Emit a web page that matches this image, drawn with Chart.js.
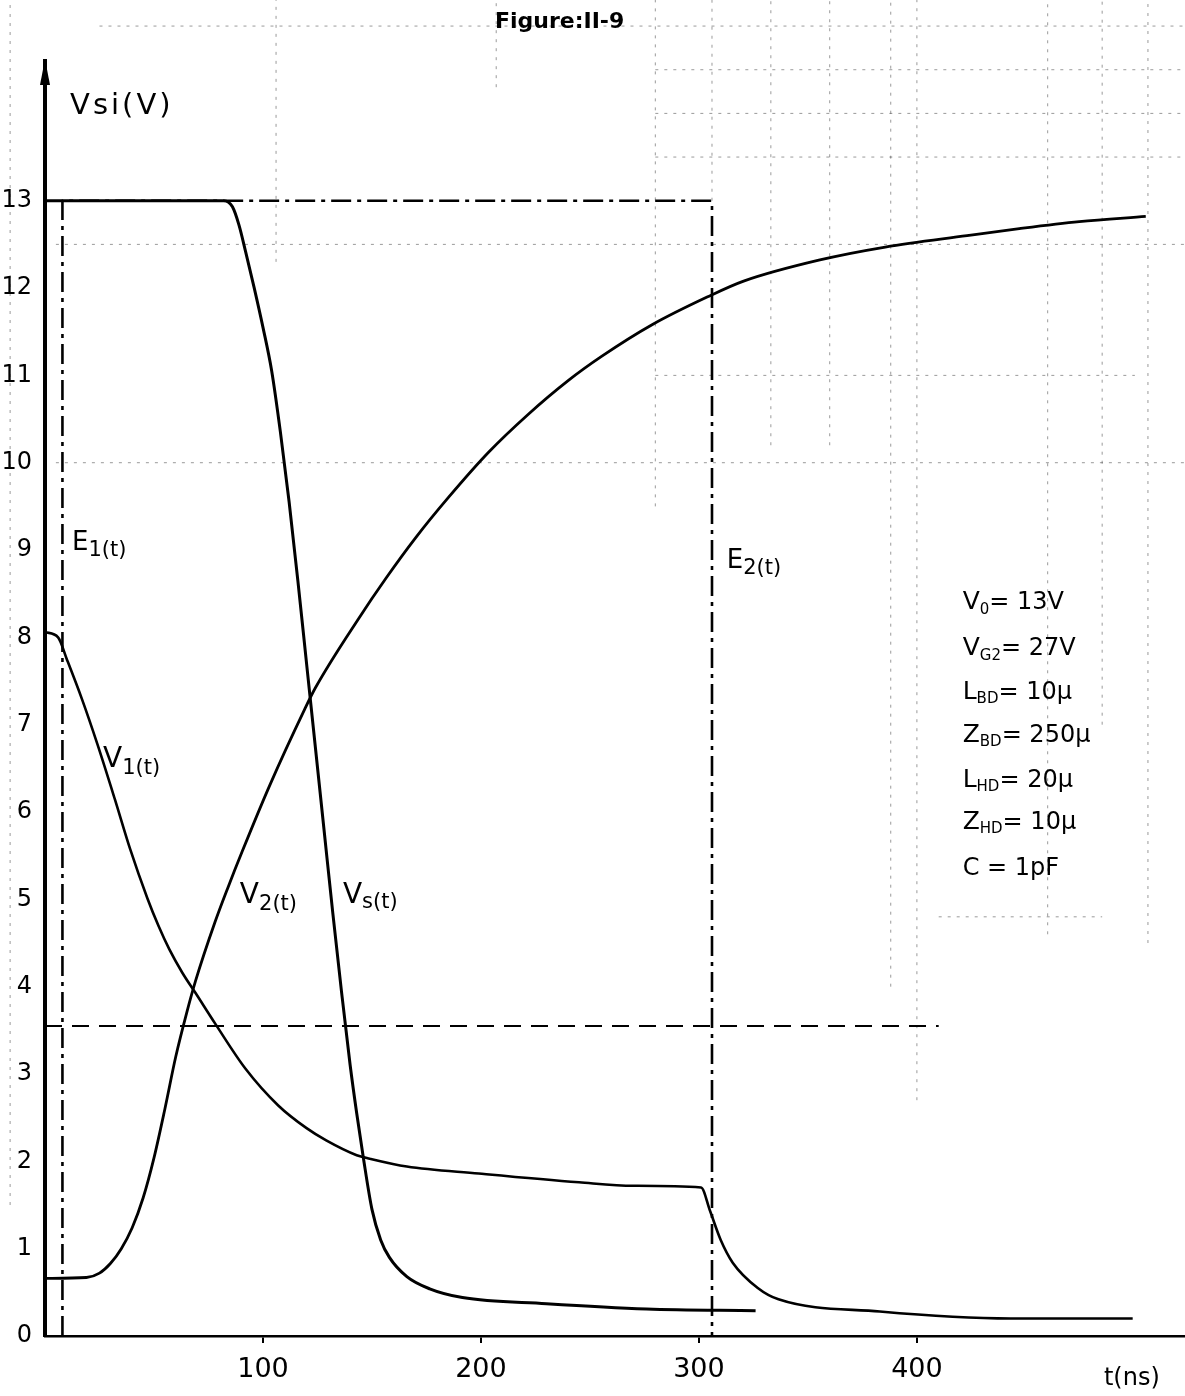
<!DOCTYPE html>
<html>
<head>
<meta charset="utf-8">
<title>Figure II-9</title>
<script src="https://cdn.jsdelivr.net/npm/chart.js@4.4.1/dist/chart.umd.min.js"></script>
<style>
  html, body { margin: 0; padding: 0; background: #fff; }
  #wrap { width: 1185px; height: 1396px; }
</style>
</head>
<body>
<div id="wrap"><canvas id="chart" width="1185" height="1396"></canvas></div>
<script>
// Axes: time in ns, voltage in V
const timeTicks = [100, 200, 300, 400];
const voltTicks = [0, 1, 2, 3, 4, 5, 6, 7, 8, 9, 10, 11, 12, 13];
const timeMax = 523;
const voltMax = 14.6;   // tip of the V axis arrow

// Vs(t)
const vsTime = [0, 82, 86, 89, 92, 96, 100, 104, 108, 112, 116, 120, 124, 128, 132, 136, 140, 143, 146, 150, 154, 158, 166, 176.5, 191.5, 230, 276, 326];
const vsVolt = [13.0, 13.0, 12.93, 12.72, 12.42, 12.0, 11.55, 11.05, 10.35, 9.55, 8.65, 7.7, 6.75, 5.8, 4.85, 3.95, 3.1, 2.55, 2.05, 1.45, 1.1, 0.9, 0.68, 0.54, 0.44, 0.37, 0.31, 0.29];

// V1(t)
const v1Time = [0, 6, 10, 17, 24, 32, 39, 47, 52, 57, 63, 69, 78, 92, 107, 120, 129, 143, 149, 166, 199, 245, 270, 301, 305, 310, 315.5, 327, 336.5, 383, 443, 499];
const v1Volt = [8.06, 8.0, 7.75, 7.29, 6.78, 6.15, 5.58, 5.01, 4.7, 4.43, 4.16, 3.93, 3.58, 3.06, 2.64, 2.38, 2.24, 2.07, 2.03, 1.94, 1.86, 1.76, 1.72, 1.70, 1.44, 1.10, 0.84, 0.55, 0.42, 0.28, 0.20, 0.20];

// V2(t)
const v2Time = [0, 19, 25, 30, 35, 40, 45, 50, 55, 60, 65, 69, 78, 84, 90.5, 103, 119, 124, 144, 156.5, 170, 185, 203.5, 221.5, 240, 255.5, 278.5, 304, 320.5, 355, 385.5, 423, 447, 474.5, 505];
const v2Volt = [0.66, 0.67, 0.72, 0.83, 1.0, 1.24, 1.58, 2.04, 2.6, 3.2, 3.7, 4.06, 4.74, 5.14, 5.55, 6.3, 7.17, 7.42, 8.22, 8.68, 9.14, 9.6, 10.12, 10.55, 10.94, 11.22, 11.58, 11.9, 12.08, 12.32, 12.47, 12.6, 12.68, 12.76, 12.82];

// E1(t) / E2(t) pulse (dash-dot)
const eTime = [8, 8, 306, 306];
const eVolt = [0, 13, 13, 0];

// dashed level line
const levelTime = [0, 410];
const levelVolt = [3.55, 3.55];

// faint graph paper lines left on the scan (data units)
const paperRowVolt = [15.0, 14.5, 14.0, 13.5, 12.5, 11.0, 10.0, 4.8];
const paperRowFrom = [25, 280, 280, 280, 5, 280, 5, 410];
const paperRowTo = [523, 523, 523, 523, 523, 500, 523, 485];
const paperColTime = [-16, 106, 207, 280, 306, 333, 360, 388, 400, 460, 485, 506];
const paperColFrom = [1.5, 12.3, 14.3, 9.5, 13, 10.2, 10.2, 4.0, 2.7, 4.6, 7.0, 4.5];
const paperColTo = [15.3, 15.3, 15.3, 15.3, 15.3, 15.3, 15.3, 15.3, 15.3, 15.3, 15.3, 15.3];

// text on the figure: [t, V, parts[text, size, drop]]
const curveLabels = [
  [206.4, 14.98, [['Figure:II-9', 22, 0, 'bold']]],
  [11.5, 13.99, [['Vsi(V)', 29, 0]]],
  [12.4, 9.0, [['E', 26, 0], ['1(t)', 21, 6]]],
  [312.8, 8.8, [['E', 26, 0], ['2(t)', 21, 6]]],
  [26.6, 6.52, [['V', 28, 0], ['1(t)', 21, 7]]],
  [89.4, 4.96, [['V', 28, 0], ['2(t)', 21, 7]]],
  [136.7, 4.96, [['V', 28, 0], ['s(t)', 21, 5]]],
  [485.8, -0.56, [['t(ns)', 24, 0]]]
];
const paramTime = 421;
const paramVolt = [8.32, 7.8, 7.29, 6.8, 6.29, 5.8, 5.28];
const paramText = [
  [['V', 25, 0], ['0', 15, 5], ['= 13V', 24, 0]],
  [['V', 25, 0], ['G2', 15, 5], ['= 27V', 24, 0]],
  [['L', 25, 0], ['BD', 15, 4], ['= 10µ', 24, 0]],
  [['Z', 25, 0], ['BD', 15, 4], ['= 250µ', 24, 0]],
  [['L', 25, 0], ['HD', 15, 4], ['= 20µ', 24, 0]],
  [['Z', 25, 0], ['HD', 15, 4], ['= 10µ', 24, 0]],
  [['C = 1pF', 24, 0]]
];

const ink = '#000';
const fontFamily = '"DejaVu Sans", sans-serif';

function toPoints(ts, vs) {
  return ts.map((t, i) => ({ x: t, y: vs[i] }));
}

function drawParts(ctx, px, py, parts) {
  let cx = px;
  parts.forEach(([txt, size, drop, weight]) => {
    ctx.font = (weight || 'normal') + ' ' + size + 'px ' + fontFamily;
    ctx.fillText(txt, cx, py + drop);
    cx += ctx.measureText(txt).width;
  });
}

const sketchPlugin = {
  id: 'sketch',
  beforeDatasetsDraw(chart) {
    const { ctx, scales: { x, y } } = chart;
    ctx.save();
    ctx.strokeStyle = 'rgba(0,0,0,0.4)';
    ctx.lineWidth = 1;
    ctx.setLineDash([3, 6]);
    paperRowVolt.forEach((v, i) => {
      ctx.beginPath();
      ctx.moveTo(x.getPixelForValue(paperRowFrom[i]), y.getPixelForValue(v));
      ctx.lineTo(x.getPixelForValue(paperRowTo[i]), y.getPixelForValue(v));
      ctx.stroke();
    });
    paperColTime.forEach((t, i) => {
      ctx.beginPath();
      ctx.moveTo(x.getPixelForValue(t), y.getPixelForValue(paperColFrom[i]));
      ctx.lineTo(x.getPixelForValue(t), y.getPixelForValue(paperColTo[i]));
      ctx.stroke();
    });
    ctx.restore();
  },
  afterDatasetsDraw(chart) {
    const { ctx, scales: { x, y } } = chart;
    ctx.save();
    // arrow head on the V axis
    const ax = x.getPixelForValue(0);
    const ay = y.getPixelForValue(voltMax);
    ctx.fillStyle = ink;
    ctx.beginPath();
    ctx.moveTo(ax, ay - 2);
    ctx.lineTo(ax - 5, ay + 24);
    ctx.lineTo(ax + 5, ay + 24);
    ctx.closePath();
    ctx.fill();

    ctx.textBaseline = 'alphabetic';
    ctx.textAlign = 'left';
    curveLabels.forEach(([t, v, parts], i) => {
      ctx.letterSpacing = i === 1 ? '3px' : '0px';
      drawParts(ctx, x.getPixelForValue(t), y.getPixelForValue(v), parts);
    });
    ctx.letterSpacing = '0px';
    paramVolt.forEach((v, i) => {
      drawParts(ctx, x.getPixelForValue(paramTime), y.getPixelForValue(v), paramText[i]);
    });
    ctx.restore();
  }
};

new Chart(document.getElementById('chart'), {
  type: 'line',
  data: {
    datasets: [
      { label: 'E(t)', data: toPoints(eTime, eVolt), borderColor: ink, borderWidth: 2.6, borderDash: [20, 6, 4, 6], tension: 0 },
      { label: 'level', data: toPoints(levelTime, levelVolt), borderColor: ink, borderWidth: 2, borderDash: [17, 10], tension: 0 },
      { label: 'Vs(t)', data: toPoints(vsTime, vsVolt), borderColor: ink, borderWidth: 3, cubicInterpolationMode: 'monotone' },
      { label: 'V1(t)', data: toPoints(v1Time, v1Volt), borderColor: ink, borderWidth: 2.6, cubicInterpolationMode: 'monotone' },
      { label: 'V2(t)', data: toPoints(v2Time, v2Volt), borderColor: ink, borderWidth: 2.8, cubicInterpolationMode: 'monotone' }
    ]
  },
  options: {
    responsive: false,
    animation: false,
    layout: { padding: { top: 61, right: 0, bottom: 0, left: 0 } },
    elements: {
      point: { radius: 0 },
      line: { fill: false, borderCapStyle: 'butt', borderJoinStyle: 'round' }
    },
    plugins: { legend: { display: false }, tooltip: { enabled: false } },
    scales: {
      x: {
        type: 'linear',
        min: 0,
        max: timeMax,
        afterFit: s => { s.height = 60; },
        afterBuildTicks: s => { s.ticks = timeTicks.map(v => ({ value: v })); },
        grid: { drawOnChartArea: false, color: ink, lineWidth: 2, tickLength: 7 },
        border: { color: ink, width: 2.5 },
        ticks: { color: ink, font: { family: fontFamily, size: 27 }, padding: 11, maxRotation: 0 }
      },
      y: {
        type: 'linear',
        min: 0,
        max: voltMax,
        afterFit: s => { s.width = 45; },
        afterBuildTicks: s => { s.ticks = voltTicks.map(v => ({ value: v })); },
        grid: { display: false },
        border: { color: ink, width: 4 },
        ticks: { color: ink, font: { family: fontFamily, size: 24 }, padding: 5 }
      }
    }
  },
  plugins: [sketchPlugin]
});
</script>
</body>
</html>
